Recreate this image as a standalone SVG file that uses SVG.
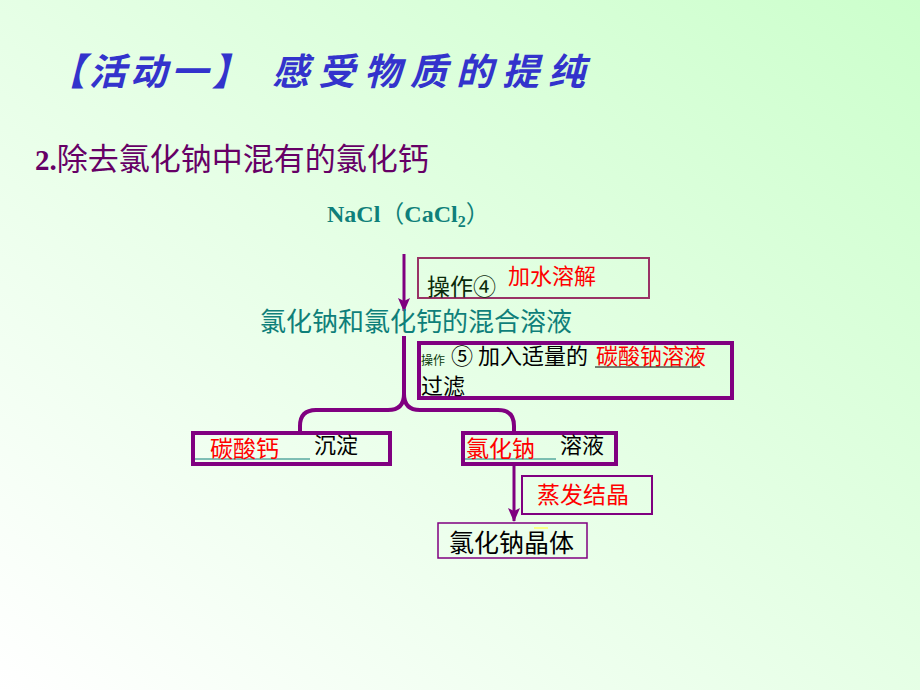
<svg xmlns="http://www.w3.org/2000/svg" width="920" height="690" viewBox="0 0 920 690">
<defs>
<linearGradient id="bg" x1="1" y1="0" x2="0" y2="1">
<stop offset="0" stop-color="#ccffcc"/>
<stop offset="1" stop-color="#ffffff"/>
</linearGradient>
<marker id="ah" viewBox="0 0 14 12" refX="13" refY="6" markerWidth="14" markerHeight="12" markerUnits="userSpaceOnUse" orient="auto">
<path d="M0,0 L14,6 L0,12 L3,6 Z" fill="#800080"/>
</marker>
<style>
.cjk{font-family:"Noto Sans CJK SC","Noto Sans",sans-serif;}
.red{fill:#ff0000;}
.blk{fill:#000000;}
.teal{fill:#0f7f7a;}
.box{fill:none;stroke:#800080;}
.line{fill:none;stroke:#800080;stroke-width:4;}
</style>
</defs>
<rect width="920" height="690" fill="url(#bg)"/>

<g id="title">
<text x="48" y="85" class="cjk" font-size="37" font-weight="bold" font-style="italic" fill="#3333cc" letter-spacing="4">【活动一】</text>
<text x="272" y="85" class="cjk" font-size="37" font-weight="bold" font-style="italic" fill="#3333cc" letter-spacing="9">感受物质的提纯</text>
</g>

<g id="subtitle">
<text x="35" y="170" font-size="29" fill="#660066"><tspan font-family="Liberation Serif, serif" font-weight="bold">2.</tspan><tspan class="cjk" font-size="31">除去氯化钠中混有的氯化钙</tspan></text>
</g>

<g id="start">
<text x="327" y="222" font-family="Liberation Serif, serif" font-weight="bold" font-size="24" class="teal">NaCl<tspan class="cjk" font-weight="normal" font-size="24">（</tspan>CaCl<tspan font-size="16" dy="5">2</tspan><tspan class="cjk" font-weight="normal" font-size="24" dy="-5">）</tspan></text>
</g>

<g id="connectors">
<line x1="404" y1="254" x2="404" y2="311" stroke="#800080" stroke-width="3" marker-end="url(#ah)"/>
<path class="line" d="M404,336 V394 Q404,410 388,410 H316 Q300,410 300,426 V434"/>
<path class="line" d="M404,394 Q404,410 420,410 H498 Q514,410 514,426 V434"/>
<line x1="514" y1="465" x2="514" y2="521" stroke="#800080" stroke-width="3" marker-end="url(#ah)"/>
</g>

<g id="op4">
<rect x="418" y="258" width="231" height="40" fill="none" stroke="#993366" stroke-width="2"/>
<text x="427" y="295" class="cjk" font-size="23" fill="#0a2a0a">操作④</text>
<text x="508" y="284" class="cjk red" font-size="22">加水溶解</text>
</g>

<g id="mixture">
<text x="260" y="331" class="cjk teal" font-size="26">氯化钠和氯化钙的混合溶液</text>
</g>

<g id="op5">
<rect x="419" y="343" width="313" height="55" class="box" stroke-width="4"/>
<text x="421" y="365" class="cjk" font-size="12" fill="#0a3a0a">操作</text>
<text x="451" y="364" class="cjk blk" font-size="22">⑤ 加入适量的</text>
<text x="596" y="364" class="cjk red" font-size="22">碳酸钠溶液</text>
<line x1="595" y1="367" x2="700" y2="367" stroke="#000" stroke-width="1"/>
<text x="421" y="394" class="cjk blk" font-size="22">过滤</text>
</g>

<g id="precipitate">
<rect x="193" y="433" width="197" height="31" class="box" stroke-width="4"/>
<line x1="195" y1="459" x2="310" y2="459" stroke="#0f7f7a" stroke-width="1"/>
<text x="210" y="457" class="cjk red" font-size="23">碳酸钙</text>
<text x="314" y="453" class="cjk blk" font-size="22">沉淀</text>
</g>

<g id="solution">
<rect x="463" y="433" width="153" height="31" class="box" stroke-width="4"/>
<line x1="465" y1="459" x2="556" y2="459" stroke="#0f7f7a" stroke-width="1"/>
<text x="466" y="457" class="cjk red" font-size="23">氯化钠</text>
<text x="560" y="453" class="cjk blk" font-size="22">溶液</text>
</g>

<g id="evap">
<rect x="522" y="476" width="130" height="38" class="box" stroke-width="2"/>
<text x="537" y="503" class="cjk red" font-size="23">蒸发结晶</text>
</g>

<g id="crystal">
<rect x="438" y="523" width="149" height="35" class="box" stroke-width="1.5"/>
<line x1="534" y1="528" x2="548" y2="528" stroke="#ffff66" stroke-width="1.5"/>
<text x="449" y="552" class="cjk blk" font-size="25">氯化钠晶体</text>
</g>
</svg>
